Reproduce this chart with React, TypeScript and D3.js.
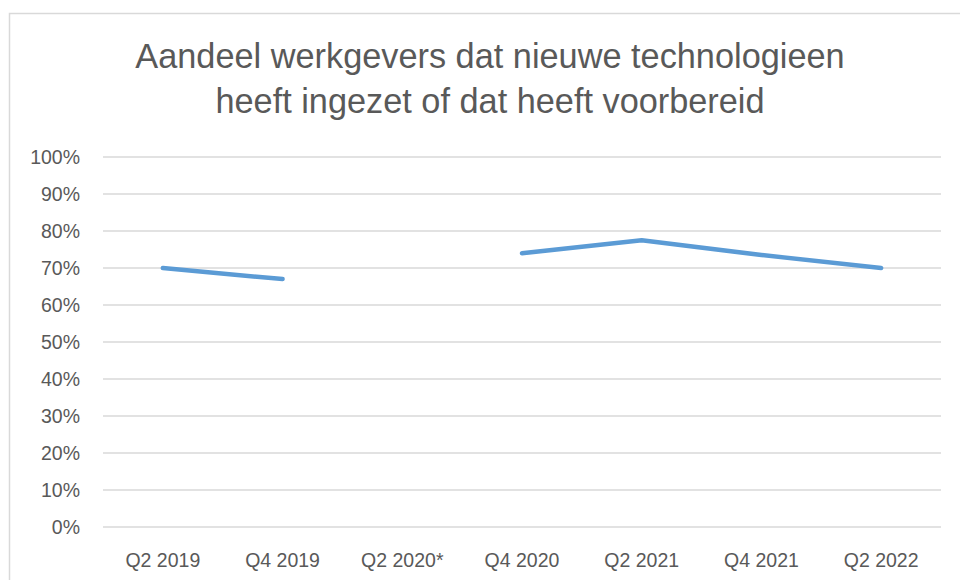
import React from "react";
import * as d3 from "d3";

const categories = ["Q2 2019", "Q4 2019", "Q2 2020*", "Q4 2020", "Q2 2021", "Q4 2021", "Q2 2022"];
const values: (number | null)[] = [0.70, 0.67, null, 0.74, 0.775, 0.735, 0.70];
const yTicks = [0, 0.1, 0.2, 0.3, 0.4, 0.5, 0.6, 0.7, 0.8, 0.9, 1.0];
const titleLines = ["Aandeel werkgevers dat nieuwe technologieen", "heeft ingezet of dat heeft voorbereid"];

const W = 960;
const H = 580;
const plot = { left: 103, right: 941, top: 157, bottom: 527 };
const FONT = "'Liberation Sans', Arial, sans-serif";
const TEXT = "#595959";

export default function App() {
  const x = d3.scaleBand<string>().domain(categories).range([plot.left, plot.right]);
  const y = d3.scaleLinear().domain([0, 1]).range([plot.bottom, plot.top]);
  const line = d3
    .line<number | null>()
    .defined((d) => d !== null)
    .x((_, i) => (x(categories[i]) as number) + x.bandwidth() / 2)
    .y((d) => y(d as number));

  return (
    <svg
      width={W}
      height={H}
      style={{ position: "absolute", left: 0, top: 0, background: "#fff" }}
      fontFamily={FONT}
    >
      <rect x={9.5} y={13.5} width={W + 10} height={H + 10} fill="#fff" stroke="#d9d9d9" strokeWidth={1.5} />
      {titleLines.map((t, i) => (
        <text key={i} x={490} y={68 + i * 45} textAnchor="middle" fontSize={34.3} fill={TEXT}>
          {t}
        </text>
      ))}
      {yTicks.map((t) => (
        <g key={t}>
          <line x1={plot.left} x2={plot.right} y1={y(t)} y2={y(t)} stroke="#d9d9d9" strokeWidth={1.5} />
          <text x={80} y={y(t)} dy="0.36em" textAnchor="end" fontSize={19.5} fill={TEXT}>
            {d3.format(".0%")(t)}
          </text>
        </g>
      ))}
      {categories.map((c) => (
        <text key={c} x={(x(c) as number) + x.bandwidth() / 2} y={567} textAnchor="middle" fontSize={19.5} fill={TEXT}>
          {c}
        </text>
      ))}
      <path d={line(values) || ""} fill="none" stroke="#5B9BD5" strokeWidth={4.5} strokeLinecap="round" strokeLinejoin="round" />
    </svg>
  );
}
